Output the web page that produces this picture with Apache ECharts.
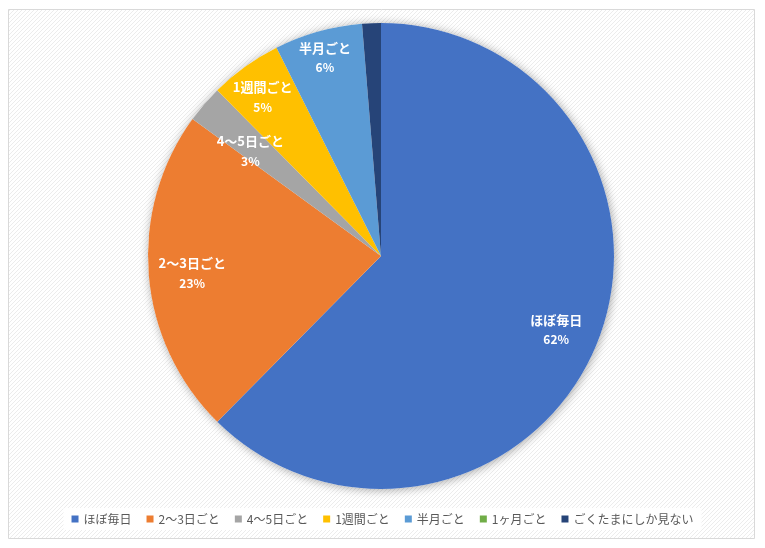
<!DOCTYPE html>
<html><head><meta charset="utf-8">
<script src="https://cdn.jsdelivr.net/npm/echarts@6/dist/echarts.min.js"></script>
<style>html,body{margin:0;padding:0;background:#fff}#c{width:765px;height:548px}</style>
</head><body><div id="c"></div>
<script>
const categories = ['ほぼ毎日','2〜3日ごと','4〜5日ごと','1週間ごと','半月ごと','1ヶ月ごと','ごくたまにしか見ない'];
const values = [62.4, 22.6, 2.6, 5.0, 6.1, 0, 1.3];
const colors = ['#4472C4','#ED7D31','#A5A5A5','#FFC000','#5B9BD5','#70AD47','#264478'];
const showLabel = [true, true, true, true, true, false, false];
const labelOffsets = [[0,2],[0,2],[13,19],[-8,-5],[-5,-16],[0,0],[0,0]];

// hatch pattern
const pc = document.createElement('canvas');
pc.width = 4; pc.height = 4;
const g = pc.getContext('2d');
g.fillStyle = '#ffffff'; g.fillRect(0,0,4,4);
g.strokeStyle = '#ececec'; g.lineWidth = 1;
g.beginPath(); g.moveTo(-1,5); g.lineTo(5,-1); g.stroke();
g.beginPath(); g.moveTo(-1,1); g.lineTo(1,-1); g.stroke();
g.beginPath(); g.moveTo(3,5); g.lineTo(5,3); g.stroke();

const chart = echarts.init(document.getElementById('c'));
const center = [381, 256];
const R = 233;
chart.setOption({
  animation: false,
  backgroundColor: '#ffffff',
  color: colors,
  graphic: [{
    type: 'rect', z: -10, silent: true,
    shape: { x: 8.5, y: 9.5, width: 746, height: 529 },
    style: { fill: { image: pc, repeat: 'repeat' }, stroke: '#d9d9d9', lineWidth: 1 }
  }],
  legend: {
    data: categories,
    bottom: 18,
    left: 'center',
    icon: 'rect',
    itemWidth: 7, itemHeight: 7,
    itemGap: 15,
    backgroundColor: '#ffffff',
    padding: [5, 8],
    textStyle: { fontSize: 12, color: '#595959', fontFamily: 'Noto Sans CJK JP' }
  },
  series: [
    {
      type: 'pie', silent: true, center: center, radius: R, z: 0,
      label: { show: false }, labelLine: { show: false },
      itemStyle: { color: '#ffffff', shadowBlur: 10, shadowColor: 'rgba(0,0,0,0.35)', shadowOffsetX: 1, shadowOffsetY: 1 },
      data: [{ name: '_shadow', value: 1 }]
    },
    {
      type: 'pie', center: center, radius: R, startAngle: 90, clockwise: true, z: 2,
      label: { show: false }, labelLine: { show: false },
      itemStyle: { borderWidth: 0 },
      emphasis: { disabled: true },
      data: categories.map((n, i) => ({ name: n, value: values[i], itemStyle: { color: colors[i] } }))
    },
    {
      type: 'pie', center: center, radius: [R * 0.6, R], startAngle: 90, clockwise: true, z: 3,
      silent: true,
      itemStyle: { color: 'rgba(0,0,0,0)' },
      emphasis: { disabled: true },
      labelLine: { show: false },
      label: {
        position: 'inside',
        formatter: p => '{n|' + p.name + '}\n{v|' + Math.round(p.percent) + '%}',
        rich: {
          n: { color: '#fff', fontSize: 13, fontWeight: 'bold', fontFamily: 'Noto Sans CJK JP', lineHeight: 20 },
          v: { color: '#fff', fontSize: 12, fontWeight: 'bold', fontFamily: 'Noto Sans CJK JP', lineHeight: 20 }
        }
      },
      data: categories.map((n, i) => ({
        name: n, value: values[i],
        label: { show: showLabel[i], offset: labelOffsets[i] }
      }))
    }
  ]
});
</script>
</body></html>
